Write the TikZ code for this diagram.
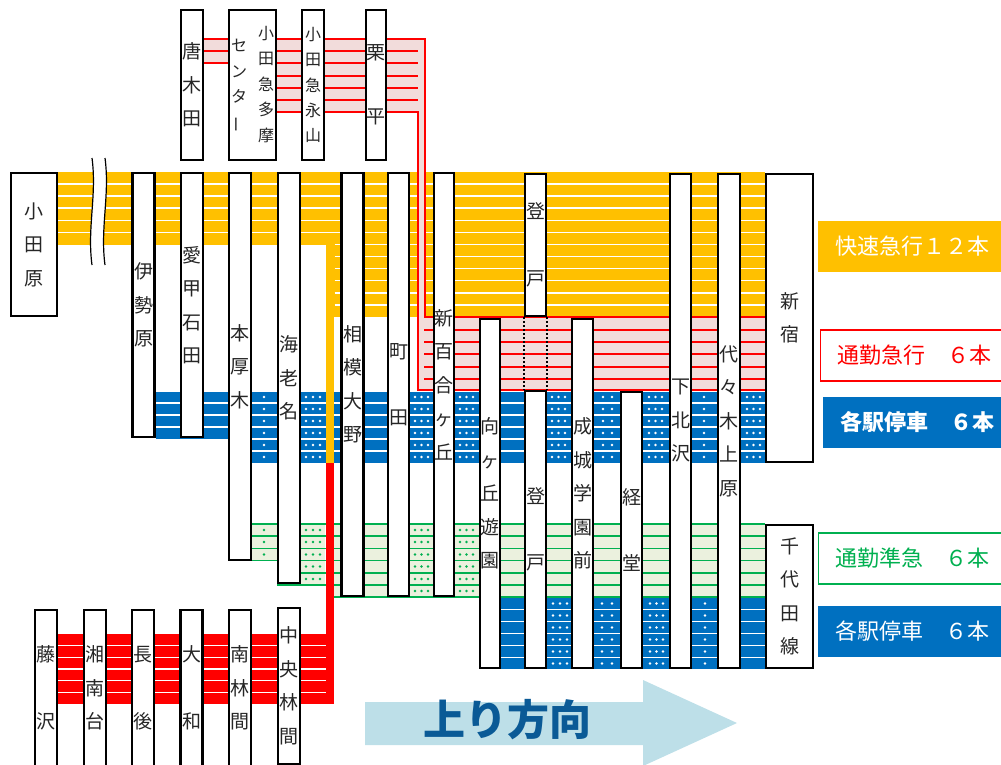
\documentclass[tikz,border=0pt]{standalone}
\usepackage{fontspec}
\newfontfamily\jp{Noto Sans CJK JP}
\usetikzlibrary{positioning}
\definecolor{kyuko}{HTML}{FFC000}
\definecolor{tsukin}{HTML}{FF0000}
\definecolor{tsukinfill}{HTML}{F2DCDB}
\definecolor{kakueki}{HTML}{0070C0}
\definecolor{junkyu}{HTML}{00B050}
\definecolor{junkyufill}{HTML}{EBF1DE}
\definecolor{arrowfill}{HTML}{BDDFE8}
\definecolor{arrowtext}{HTML}{0A5A96}
\tikzset{%
  stn/.style = {rectangle,draw,line width=2.2pt,fill=white,minimum width=22pt,
        inner sep=0pt,align=center,text=black!85,
        font=\jp\fontsize{19}{33.5}\selectfont},
  sepw/.style = {white,line width=1.5pt},
  sepr/.style = {tsukin,line width=1.7pt},
  sepg/.style = {junkyu,line width=1.6pt},
  legend/.style = {rectangle,anchor=west,minimum height=51pt,minimum width=188pt,
        inner sep=0pt,font=\jp\fontsize{22}{24}\selectfont}
}

\begin{document}
\begin{tikzpicture}[x=1pt,y=-1pt]
\useasboundingbox (0,0) rectangle (1001,764);

% kaisoku kyuko
\fill[kyuko] (58,172) rectangle (765,244.5);
\fill[kyuko] (326,244.5) rectangle (765,317);
\foreach \y in {184.1,196.2,208.2,220.3,232.4} \draw[sepw] (58,\y) -- (765,\y);
\foreach \y in {244.5,256.6,268.6,280.7,292.8,304.9} \draw[sepw] (334.5,\y) -- (765,\y);
\fill[white] (92,158) .. controls (97,195) and (87,228) .. (92,265)
  -- (105,265) .. controls (100,228) and (110,195) .. (105,158) -- cycle;
\draw[line width=1.2pt] (92,158) .. controls (97,195) and (87,228) .. (92,265);
\draw[line width=1.2pt] (105,158) .. controls (110,195) and (100,228) .. (105,265);

% tsukin kyuko
\fill[tsukinfill] (204,39) rectangle (228,63);
\fill[tsukinfill] (277,39) rectangle (425,112);
\fill[tsukinfill] (418,112) rectangle (425,317);
\fill[tsukinfill] (418,317) rectangle (765,390);
\foreach \y in {51,63} \draw[sepr] (192,\y) -- (418,\y);
\foreach \y in {76,88,100} \draw[sepr] (265,\y) -- (418,\y);
\draw[sepr] (192,39) -- (425,39) -- (425,317) -- (765,317);
\draw[sepr] (265,112) -- (418,112) -- (418,390) -- (765,390);
\foreach \y in {330,342,354,367,379} \draw[sepr] (424,\y) -- (765,\y);

% kakueki teisha (up)
\fill[kakueki] (156,391.5) rectangle (252,439);
\fill[kakueki] (252,391.5) rectangle (765,463);
\foreach \y in {403,415,427} \draw[sepw] (156,\y) -- (765,\y);
\foreach \y in {439,451} \draw[sepw] (252,\y) -- (765,\y);
\foreach \x in {264,306,313,320,415,421.5,428,460,466.5,473,552,558.5,565,603,612,649,655.5,662,704,747,753.5,760}
  \foreach \y in {397,409,421,433,445,457}
    \fill[white] (\x,\y) circle (1.4pt);

% tsukin junkyu
\fill[junkyufill] (252,524) rectangle (277,561);
\fill[junkyufill] (277,524) rectangle (325,585);
\fill[junkyufill] (326,524) rectangle (765,597);
\foreach \y in {524,536.2,548.3,560.5} \draw[sepg] (252,\y) -- (765,\y);
\foreach \y in {572.7,584.8} \draw[sepg] (277,\y) -- (765,\y);
\draw[sepg] (326,597) -- (765,597);
\foreach \y in {530,542,554.5} \fill[junkyu] (264,\y) circle (1.3pt);
\foreach \x in {306,313,320}
  \foreach \y in {530,542,554.5,566.5,579}
    \fill[junkyu] (\x,\y) circle (1.3pt);
\foreach \x in {415,421.5,428,460,466.5,473}
  \foreach \y in {530,542,554.5,566.5,579,591}
    \fill[junkyu] (\x,\y) circle (1.3pt);

% kakueki teisha (chiyoda)
\fill[kakueki] (501,598) rectangle (765,669);
\foreach \y in {609.5,621.5,633.5,645.5,657.5} \draw[sepw] (501,\y) -- (765,\y);
\foreach \x in {553,560,567,602,612,650,656.5,663,705}
  \foreach \y in {603.5,615.5,627.5,639.5,651.5,663.5}
    \fill[white] (\x,\y) circle (1.4pt);

% enoshima
\fill[tsukin] (58,634) rectangle (334,704);
\foreach \y in {645.7,657.3,669,680.7,692.3} \draw[sepw] (58,\y) -- (326,\y);
\fill[tsukin] (326,463) rectangle (334,704);
\fill[kyuko] (326,244.5) rectangle (334,463);

% tama
\node[stn, minimum height=150pt] (karakida) at (192,85) {唐\\木\\田};
\node[stn, minimum width=47pt, minimum height=150pt,
      font=\jp\fontsize{16}{25.5}\selectfont] (tamacenter) at (252.5,85)
  {\begin{tabular}[c]{@{}c@{}}セ\\ン\\タ\\\rotatebox[origin=c]{90}{ー}\end{tabular}\hspace{11pt}%
   \begin{tabular}[c]{@{}c@{}}小\\田\\急\\多\\摩\end{tabular}};
\node[stn, minimum height=150pt, font=\jp\fontsize{16}{25.3}\selectfont] (nagayama) at (313,85) {小\\田\\急\\永\\山};
\node[stn, minimum width=20pt, minimum height=150pt] (kurihira) at (376,85) {栗\\[31pt]平};

% odakyu line
\node[stn, minimum width=46pt, minimum height=143pt] (odawara) at (34,244.5) {小\\田\\原};
\node[stn, minimum height=264pt] (isehara) at (143.5,305) {伊\\勢\\原};
\node[stn, minimum height=264pt] (aiko) at (192,305) {愛\\甲\\石\\田};
\node[stn, minimum height=387pt] (honatsugi) at (240,366.5) {本\\厚\\木};
\node[stn, minimum height=410pt] (ebina) at (289,378) {海\\老\\名};
\node[stn, minimum height=423pt] (sagamiono) at (352.5,384.5) {相\\模\\大\\野};
\node[stn, minimum width=21pt, minimum height=423pt] (machida) at (398.5,384.5) {町\\[33pt]田};
\node[stn, minimum width=20pt, minimum height=423pt] (shinyuri) at (444,384.5) {新\\百\\合\\ヶ\\丘};
\node[stn, minimum width=20pt, minimum height=349pt] (mukogaoka) at (490,493.5) {向\\ヶ\\丘\\遊\\園};
\node[stn, minimum width=21pt, minimum height=142pt] (noborito) at (535.5,245) {登\\[33pt]戸};
\node[stn, minimum width=21pt, minimum height=277pt] (noboritob) at (535.5,529.5) {登\\[33pt]戸};
\node[stn, minimum width=21pt, minimum height=349pt] (seijo) at (582.5,493.5) {成\\城\\学\\園\\前};
\node[stn, minimum width=21pt, minimum height=276pt] (kyodo) at (631.5,530) {経\\[33pt]堂};
\node[stn, minimum width=21pt, minimum height=494pt] (shimokita) at (680.5,421) {下\\北\\沢};
\node[stn, minimum height=494pt] (yoyogi) at (729,421) {代\\々\\木\\上\\原};
\node[stn, minimum width=47pt, minimum height=288pt] (shinjuku) at (789.5,318) {新\\宿};
\node[stn, minimum width=47pt, minimum height=143pt] (chiyoda) at (789.5,596.5) {千\\代\\田\\線};
\draw[line width=1.5pt, dash pattern=on 2pt off 2pt] (noborito.south west) -- (noboritob.north west);
\draw[line width=1.5pt, dash pattern=on 2pt off 2pt] (noborito.south east) -- (noboritob.north east);

% enoshima line
\node[stn, minimum height=156pt] (fujisawa) at (46,688) {藤\\[33pt]沢};
\node[stn, minimum height=156pt] (shonandai) at (95,688) {湘\\南\\台};
\node[stn, minimum height=156pt] (chogo) at (143,688) {長\\[33pt]後};
\node[stn, minimum height=156pt] (yamato) at (191.5,688) {大\\[33pt]和};
\node[stn, minimum height=156pt] (minamirinkan) at (240,688) {南\\林\\間};
\node[stn, minimum height=156pt] (chuorinkan) at (289,686) {中\\央\\林\\間};

% legend
\node[legend, fill=kyuko, text=white] (kaisoku) at (818,246.5) {快速急行１２本};
\node[legend, draw=tsukin, line width=1.2pt, fill=white, text=tsukin] (tsukinkyuko) at (820,355.5) {通勤急行　６本};
\node[legend, fill=kakueki, text=white, font=\jp\bfseries\fontsize{22}{24}\selectfont] (kakuekia) at (823,422) {各駅停車　６本};
\node[legend, draw=junkyu, line width=1.2pt, fill=white, text=junkyu] (junkyuleg) at (818,558.5) {通勤準急　６本};
\node[legend, fill=kakueki, text=white] (kakuekib) at (818,631.5) {各駅停車　６本};

% direction
\fill[arrowfill] (365,702) -- (643,702) -- (643,680) -- (737,723) -- (643,766)
  -- (643,745) -- (365,745) -- cycle;
\node[text=arrowtext, font=\jp\bfseries\fontsize{42}{42}\selectfont] (nobori) at (507,720) {上り方向};
\end{tikzpicture}
\end{document}
